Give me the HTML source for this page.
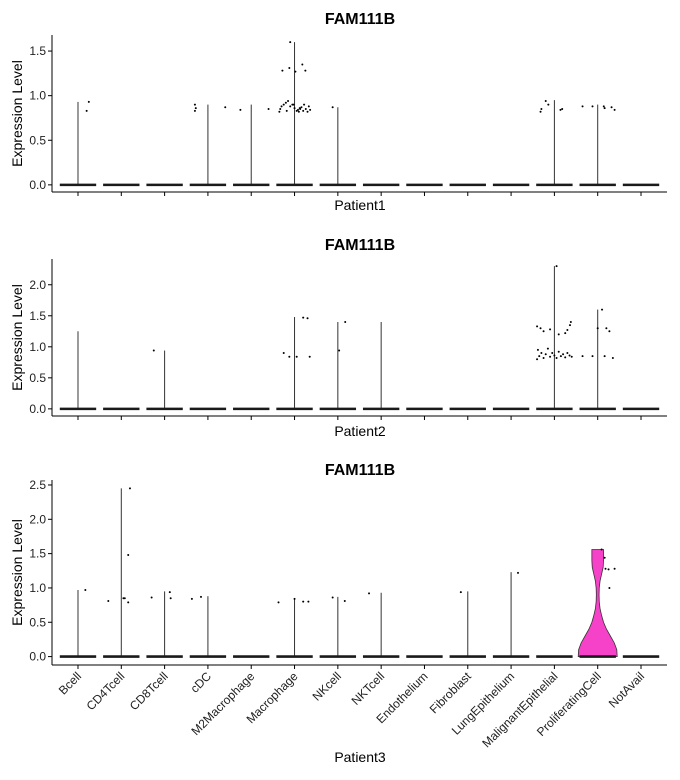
<!DOCTYPE html>
<html><head><meta charset="utf-8"><style>
body{margin:0;background:#fff;}
svg{display:block;font-family:"Liberation Sans",Arial,sans-serif;}
</style></head><body>
<svg id="c" width="680" height="780"></svg>
<script>
const categories=["Bcell","CD4Tcell","CD8Tcell","cDC","M2Macrophage","Macrophage","NKcell","NKTcell","Endothelium","Fibroblast","LungEpithelium","MalignantEpithelial","ProliferatingCell","NotAvail"];
const panelNames=["Patient1","Patient2","Patient3"];
const yTicks1=[0,0.5,1.0,1.5];
const yTicks2=[0,0.5,1.0,1.5,2.0];
const yTicks3=[0,0.5,1.0,1.5,2.0,2.5];
const maxVals1=[0.93,0,0,0.9,0.9,1.6,0.87,0,0,0,0,0.95,0.9,0];
const maxVals2=[1.25,0,0.94,0,0,1.48,1.4,1.4,0,0,0,2.3,1.6,0];
const maxVals3=[0.97,2.45,0.95,0.88,0,0.85,0.87,0.93,0,0.95,1.23,0,1.56,0];
// nonzero points: [category index, value, jitter (-0.45..0.45)]
const pts1=[[0,0.83,0.2],[0,0.93,0.25],[3,0.83,-0.3],[3,0.86,-0.28],[3,0.9,-0.3],[3,0.87,0.4],[4,0.84,-0.25],[4,0.85,0.4],
[5,1.6,-0.1],[5,1.28,-0.28],[5,1.31,-0.12],[5,1.27,0.02],[5,1.35,0.18],[5,1.28,0.25],
[5,0.82,-0.35],[5,0.85,-0.33],[5,0.88,-0.3],[5,0.9,-0.25],[5,0.92,-0.2],[5,0.94,-0.15],[5,0.88,-0.1],[5,0.9,-0.05],[5,0.86,0],[5,0.83,0.05],[5,0.84,0.08],[5,0.82,0.1],[5,0.85,0.13],[5,0.87,0.16],[5,0.83,0.2],[5,0.9,0.22],[5,0.85,0.26],[5,0.82,0.3],[5,0.88,0.33],[5,0.84,0.36],[5,0.9,-0.02],[5,0.83,-0.18],[5,0.86,0.12],
[6,0.87,-0.12],[11,0.82,-0.32],[11,0.85,-0.3],[11,0.94,-0.2],[11,0.9,-0.14],[11,0.84,0.14],[11,0.85,0.18],
[12,0.88,-0.35],[12,0.88,-0.12],[12,0.88,0.14],[12,0.87,0.32],[12,0.84,0.39],[12,0.86,0.16]];
const pts2=[[2,0.94,-0.25],[5,0.9,-0.25],[5,0.84,-0.12],[5,0.84,0.05],[5,1.47,0.2],[5,1.46,0.3],[5,0.84,0.35],[6,0.94,0.03],[6,1.4,0.17],
[11,2.3,0.05],[11,1.33,-0.4],[11,1.3,-0.32],[11,1.25,-0.25],[11,1.28,-0.1],[11,1.22,0.25],[11,1.27,0.3],[11,1.4,0.38],[11,1.35,0.36],[11,1.2,0.1],
[11,0.8,-0.4],[11,0.85,-0.35],[11,0.95,-0.38],[11,0.9,-0.3],[11,0.82,-0.25],[11,0.88,-0.2],[11,0.97,-0.15],[11,0.84,-0.1],[11,0.9,-0.05],[11,0.86,0],[11,0.82,0.05],[11,0.92,0.1],[11,0.85,0.15],[11,0.88,0.2],[11,0.83,0.25],[11,0.9,0.3],[11,0.86,0.35],[11,0.84,0.4],
[12,0.85,-0.35],[12,0.85,-0.12],[12,1.3,0],[12,1.6,0.1],[12,1.3,0.2],[12,1.25,0.27],[12,0.82,0.35],[12,0.85,0.16]];
const pts3=[[0,0.97,0.17],[1,0.81,-0.3],[1,0.85,0.05],[1,0.85,0.08],[1,0.79,0.16],[1,1.48,0.16],[1,2.45,0.2],[2,0.86,-0.3],[2,0.94,0.12],[2,0.85,0.14],
[3,0.84,-0.37],[3,0.87,-0.16],[5,0.79,-0.37],[5,0.8,0.2],[5,0.8,0.32],[5,0.84,0],[6,0.86,-0.12],[6,0.81,0.16],[7,0.92,-0.28],[9,0.94,-0.16],[10,1.22,0.16],
[12,1.56,0.09],[12,1.44,0.16],[12,1.28,0.18],[12,1.27,0.25],[12,1.28,0.39],[12,1.0,0.27]];
// ProliferatingCell density outline for panel 3 (value, relative half-width)
const densVals=[0,0.1,0.2,0.3,0.4,0.5,0.6,0.7,0.8,0.9,1.0,1.1,1.2,1.3,1.4,1.5,1.56];
const densW=[1.0,0.98,0.85,0.65,0.45,0.3,0.2,0.12,0.08,0.07,0.08,0.12,0.2,0.28,0.3,0.3,0.3];

const svg=document.getElementById('c');
const NS='http://www.w3.org/2000/svg';
function mk(tag,attrs,parent){const e=document.createElementNS(NS,tag);for(const k in attrs)e.setAttribute(k,attrs[k]);(parent||svg).appendChild(e);return e;}
const X0=52,X1=667,n=categories.length,step=(X1-X0)/(n+0.2);
function xs(i){return X0+step*(0.6+i);}
const panels=[
 {ticks:yTicks1,maxv:maxVals1,pts:pts1,top:35,bot:192,ymax:1.6,ttl:18,xt:206,rot:false},
 {ticks:yTicks2,maxv:maxVals2,pts:pts2,top:259,bot:416,ymax:2.3,ttl:244,xt:432,rot:false},
 {ticks:yTicks3,maxv:maxVals3,pts:pts3,top:480,bot:665,ymax:2.45,ttl:469,xt:758,rot:true}];
panels.forEach((p,pi)=>{
 const g=mk('g',{});
 
 
 const lo=-0.05*p.ymax,hi=p.ymax*1.05;
 const ys=v=>p.bot-(v-lo)/(hi-lo)*(p.bot-p.top);
 const t=mk('text',{x:360,y:p.ttl+6,'text-anchor':'middle','font-size':16,'font-weight':'bold'},g);t.textContent='FAM111B';
 
 const ya=mk('line',{x1:X0,x2:X0,y1:p.top,y2:p.bot,stroke:'#000','stroke-width':1},g);
 
 const xa=mk('line',{x1:X0,x2:X1,y1:p.bot,y2:p.bot,stroke:'#000','stroke-width':1},g);
 
 p.ticks.forEach(v=>{
  mk('line',{x1:X0-4,x2:X0,y1:ys(v),y2:ys(v),stroke:'#000'},g);
  const tl=mk('text',{x:X0-6,y:ys(v)+4,'text-anchor':'end','font-size':12,fill:'#222'},g);tl.textContent=v.toFixed(1);
  
 });
 const yl=mk('text',{x:0,y:0,transform:`translate(22,${(p.top+p.bot)/2}) rotate(-90)`,'text-anchor':'middle','font-size':14},g);yl.textContent='Expression Level';
 
 const xl=mk('text',{x:360,y:p.xt+4,'text-anchor':'middle','font-size':14},g);xl.textContent=panelNames[pi];
 
 categories.forEach((c,i)=>{
  const cx=xs(i);
  mk('line',{x1:cx,x2:cx,y1:p.bot,y2:p.bot+4,stroke:'#000'},g);
  if(p.rot){
   const tl=mk('text',{x:0,y:0,transform:`translate(${cx+4},${p.bot+12}) rotate(-45)`,'text-anchor':'end','font-size':12,fill:'#222'},g);tl.textContent=c;
   
  }
  if(pi===2&&i===12){
   let L=[],R=[];
   densVals.forEach((v,k)=>{L.push((cx-densW[k]*step*0.45)+','+ys(v));R.unshift((cx+densW[k]*step*0.45)+','+ys(v));});
   const vp=mk('polygon',{points:L.concat(R).join(' '),fill:'#f542c8',stroke:'#333','stroke-width':0.8},g);
   
  } else if(p.maxv[i]>0){
   const vl=mk('line',{x1:cx,x2:cx,y1:ys(0),y2:ys(p.maxv[i]),stroke:'#333','stroke-width':1},g);
   
  }
  const zb=mk('line',{x1:cx-step*0.42,x2:cx+step*0.42,y1:ys(0),y2:ys(0),stroke:'#1a1a1a','stroke-width':2.6},g);
  
 });
 p.pts.forEach(d=>{
  const pt=mk('circle',{cx:xs(d[0])+d[2]*step,cy:ys(d[1]),r:1,fill:'#000'},g);
  
 });
});
</script>
</body></html>
